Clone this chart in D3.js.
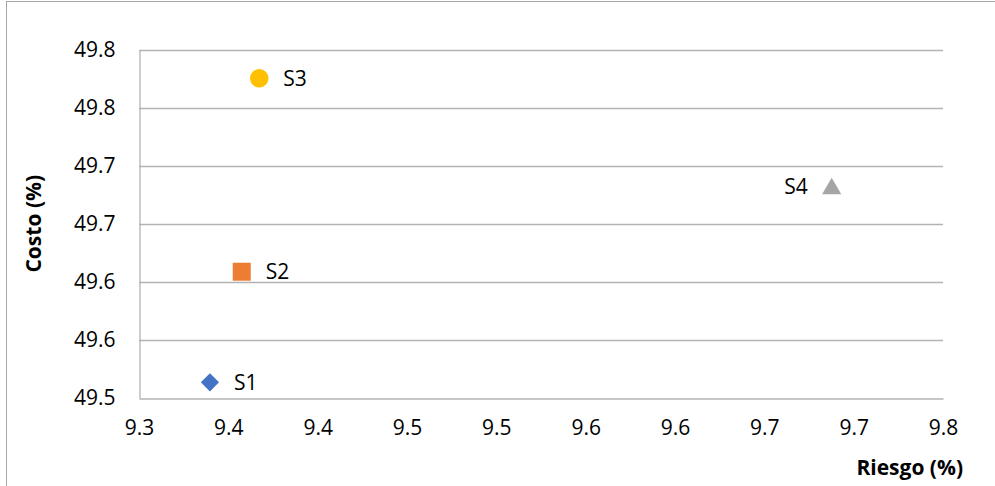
<!DOCTYPE html>
<html>
<head>
<meta charset="utf-8">
<script src="https://cdn.jsdelivr.net/npm/d3@7"></script>
<style>
  html, body { margin: 0; padding: 0; background: #fff; }
  svg { display: block; }
  text { font-family: "Open Sans", "Noto Sans", sans-serif; fill: #000; }
</style>
</head>
<body>
<svg id="chart" width="995" height="486"></svg>
<script>
// ---- data ----
const seriesNames = ["S1", "S2", "S3", "S4"];
const riesgo = [9.3397, 9.3575, 9.3673, 9.6877];
const costo = [49.5135, 49.6087, 49.7752, 49.6825];
const seriesColors = ["#4472C4", "#ED7D31", "#FFC000", "#A5A5A5"];
const seriesShapes = ["diamond", "square", "circle", "triangle"];
const labelSide = ["right", "right", "right", "left"];

const xTicks = [9.30, 9.35, 9.40, 9.45, 9.50, 9.55, 9.60, 9.65, 9.70, 9.75];
const xTickLabels = ["9.3", "9.4", "9.4", "9.5", "9.5", "9.6", "9.6", "9.7", "9.7", "9.8"];
const yTicks = [49.50, 49.55, 49.60, 49.65, 49.70, 49.75, 49.80];
const yTickLabels = ["49.5", "49.6", "49.6", "49.7", "49.7", "49.8", "49.8"];

const xTitle = "Riesgo (%)";
const yTitle = "Costo (%)";

// ---- drawing ----
const svg = d3.select("#chart");
const pLeft = 139, pRight = 943, pTop = 49.5, pBottom = 398;

const x = d3.scaleLinear().domain([9.30, 9.75]).range([pLeft, pRight]);
const y = d3.scaleLinear().domain([49.50, 49.80]).range([pBottom, pTop]);

// outer frame
svg.append("rect")
  .attr("x", 6.5).attr("y", 1.5)
  .attr("width", 1100).attr("height", 600)
  .attr("fill", "none").attr("stroke", "#a6a6a6").attr("stroke-width", 1);

// horizontal gridlines
const gridColor = "#b3b3b3";
svg.append("g").selectAll("line")
  .data(yTicks.slice(1))
  .join("line")
  .attr("x1", pLeft).attr("x2", pRight)
  .attr("y1", d => Math.round(y(d)) + 0.5).attr("y2", d => Math.round(y(d)) + 0.5)
  .attr("stroke", gridColor).attr("stroke-width", 1.3);

// axes using d3 axis generators
const xAxis = d3.axisBottom(x).tickValues(xTicks)
  .tickFormat((d, i) => xTickLabels[i]).tickSize(0).tickPadding(22);
const gx = svg.append("g").attr("transform", `translate(0,${Math.round(pBottom) + 0.5})`).call(xAxis);
gx.select(".domain").attr("stroke", gridColor).attr("stroke-width", 1.3);
gx.selectAll("text").style("font-size", "21px").attr("fill", "#000")
  .style("font-family", "'Open Sans', sans-serif");

const yAxis = d3.axisLeft(y).tickValues(yTicks)
  .tickFormat((d, i) => yTickLabels[i]).tickSize(0).tickPadding(24);
const gy = svg.append("g").attr("transform", `translate(${pLeft + 0.5},0)`).call(yAxis);
gy.select(".domain").attr("stroke", gridColor).attr("stroke-width", 1.3);
gy.selectAll("text").style("font-size", "21px").attr("fill", "#000")
  .style("font-family", "'Open Sans', sans-serif");

// markers
const pts = seriesNames.map((n, i) => ({
  name: n, x: riesgo[i], y: costo[i], color: seriesColors[i],
  shape: seriesShapes[i], side: labelSide[i]
}));

const triSize = 160;
const triOffset = Math.sqrt(triSize / (Math.sqrt(3) * 3)) / 2; // centre bbox on point

function markerPath(shape) {
  if (shape === "diamond") return d3.symbol().type(d3.symbolSquare).size(165)();
  if (shape === "square") return d3.symbol().type(d3.symbolSquare).size(324)();
  if (shape === "circle") return d3.symbol().type(d3.symbolCircle).size(270)();
  return d3.symbol().type(d3.symbolTriangle).size(triSize)();
}

svg.append("g").selectAll("path")
  .data(pts)
  .join("path")
  .attr("transform", d => {
    const dy = d.shape === "triangle" ? triOffset : 0;
    return `translate(${x(d.x)},${y(d.y) + dy})` + (d.shape === "diamond" ? " rotate(45)" : "");
  })
  .attr("d", d => markerPath(d.shape))
  .attr("fill", d => d.color);

// data labels
svg.append("g").selectAll("text")
  .data(pts)
  .join("text")
  .attr("x", d => d.side === "right" ? x(d.x) + 24 : x(d.x) - 24)
  .attr("y", d => y(d.y))
  .attr("dy", "0.36em")
  .attr("text-anchor", d => d.side === "right" ? "start" : "end")
  .style("font-size", "21px")
  .text(d => d.name);

// axis titles
svg.append("text")
  .attr("x", 963).attr("y", 467).attr("dy", "0.36em")
  .attr("text-anchor", "end")
  .style("font-size", "21px").style("font-weight", "bold")
  .text(xTitle);

svg.append("text")
  .attr("transform", `translate(33,${(pTop + pBottom) / 2}) rotate(-90)`)
  .attr("dy", "0.36em")
  .attr("text-anchor", "middle")
  .style("font-size", "21px").style("font-weight", "bold")
  .text(yTitle);
</script>
</body>
</html>
